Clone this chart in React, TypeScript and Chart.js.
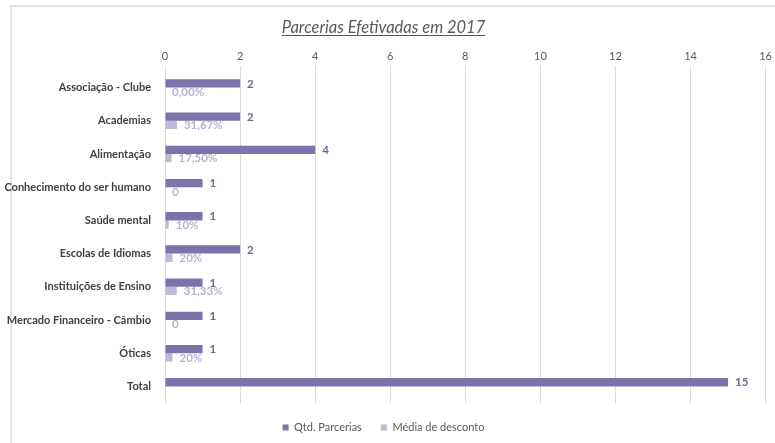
import React, { useEffect, useRef } from "react";
import { Chart, registerables } from "chart.js";

Chart.register(...registerables);

const categories = [
  "Associação - Clube",
  "Academias",
  "Alimentação",
  "Conhecimento do ser humano",
  "Saúde mental",
  "Escolas de Idiomas",
  "Instituições de Ensino",
  "Mercado Financeiro - Câmbio",
  "Óticas",
  "Total",
];

const qtdParcerias = [2, 2, 4, 1, 1, 2, 1, 1, 1, 15];
const qtdLabels = ["2", "2", "4", "1", "1", "2", "1", "1", "1", "15"];

const mediaDesconto = [0, 0.3167, 0.175, 0, 0.1, 0.2, 0.3133, 0, 0.2, null];
const mediaLabels = ["0,00%", "31,67%", "17,50%", "0", "10%", "20%", "31,33%", "0", "20%", ""];

const xTicks = { min: 0, max: 16, step: 2 };

const FONT = "Lato, 'Liberation Sans', sans-serif";

const DARK = "#7d72aa";
const LIGHT = "#bfb9d8";
const DARK_LABEL = "#6e6599";
const LIGHT_LABEL = "#b8b1d3";

const PAD_LEFT = 0;

const dataLabelPlugin = {
  id: "dataLabelPlugin",
  afterDatasetsDraw(chart: any) {
    const ctx = chart.ctx;
    const sets = [
      { labels: qtdLabels, color: DARK_LABEL },
      { labels: mediaLabels, color: LIGHT_LABEL },
    ];
    ctx.save();
    ctx.font = `bold 11.5px ${FONT}`;
    ctx.textAlign = "left";
    ctx.textBaseline = "middle";
    sets.forEach((s, i) => {
      const meta = chart.getDatasetMeta(i);
      meta.data.forEach((bar: any, j: number) => {
        const t = s.labels[j];
        if (!t) return;
        const base = chart.scales.x.getPixelForValue(0);
        const x = isFinite(bar.x) ? bar.x : base;
        ctx.fillStyle = s.color;
        ctx.fillText(t, x + 7, bar.y + 0.5);
      });
    });
    ctx.restore();
  },
};

const underlinePlugin = {
  id: "underlinePlugin",
  afterDraw(chart: any) {
    const tb = chart.titleBlock;
    if (!tb) return;
    const ctx = chart.ctx;
    const opts = chart.options.plugins.title;
    const size = opts.font.size;
    ctx.save();
    ctx.font = `italic normal ${size}px ${FONT}`;
    const text = opts.text as string;
    const w = ctx.measureText(text).width;
    const cx = (tb.left + tb.right) / 2;
    const cy = tb.top + opts.padding.top + (size * 1.2) / 2;
    ctx.strokeStyle = "#595959";
    ctx.lineWidth = 1;
    ctx.beginPath();
    ctx.moveTo(cx - w / 2, Math.round(cy + 7) + 0.5);
    ctx.lineTo(cx + w / 2, Math.round(cy + 7) + 0.5);
    ctx.stroke();
    ctx.restore();
  },
};

export default function App() {
  const ref = useRef<HTMLCanvasElement | null>(null);

  useEffect(() => {
    document.body.style.margin = "0";
    if (!ref.current) return;
    const chart = new Chart(ref.current, {
      type: "bar",
      data: {
        labels: categories,
        datasets: [
          {
            label: "Qtd. Parcerias",
            data: qtdParcerias,
            backgroundColor: DARK,
            categoryPercentage: 0.5,
            barPercentage: 1.0,
          },
          {
            label: "Média de desconto",
            data: mediaDesconto,
            backgroundColor: LIGHT,
            categoryPercentage: 0.5,
            barPercentage: 1.0,
          },
        ],
      },
      options: {
        indexAxis: "y",
        animation: false,
        responsive: false,
        maintainAspectRatio: false,
        layout: { padding: { left: PAD_LEFT, right: 8, top: 0, bottom: 0 } },
        plugins: {
          title: {
            display: true,
            text: "Parcerias Efetivadas em 2017",
            color: "#595959",
            font: { family: FONT, size: 16.5, style: "italic", weight: "normal", lineHeight: 1.2 },
            padding: { top: 18, bottom: 9 },
          },
          legend: {
            display: true,
            position: "bottom",
            labels: {
              color: "#595959",
              font: { family: FONT, size: 11 },
              boxWidth: 6,
              boxHeight: 6,
              padding: 19,
            },
          },
          tooltip: { enabled: false },
        },
        scales: {
          x: {
            position: "top",
            min: xTicks.min,
            max: xTicks.max,
            ticks: {
              stepSize: xTicks.step,
              color: "#595959",
              font: { family: FONT, size: 11 },
              padding: 3,
            },
            grid: { color: "#d9d9d9", tickLength: 5, drawTicks: true },
            border: { display: false },
          },
          y: {
            ticks: {
              color: "#404040",
              font: { family: FONT, size: 11, weight: "bold" },
              padding: 6,
            },
            grid: { display: false },
            border: { display: false },
            afterFit(scale: any) {
              scale.width = 165 - PAD_LEFT;
            },
          },
        },
      },
      plugins: [dataLabelPlugin, underlinePlugin],
    });
    return () => chart.destroy();
  }, []);

  return (
    <div style={{ position: "relative", width: 775, height: 443, background: "#fff", overflow: "hidden" }}>
      <div
        style={{
          position: "absolute",
          left: 10,
          top: 5,
          width: 800,
          height: 500,
          borderLeft: "2px solid #e4e4e4",
          borderTop: "2px solid #e4e4e4",
        }}
      />
      <canvas ref={ref} width={775} height={443} style={{ position: "absolute", left: 0, top: 0 }} />
    </div>
  );
}
